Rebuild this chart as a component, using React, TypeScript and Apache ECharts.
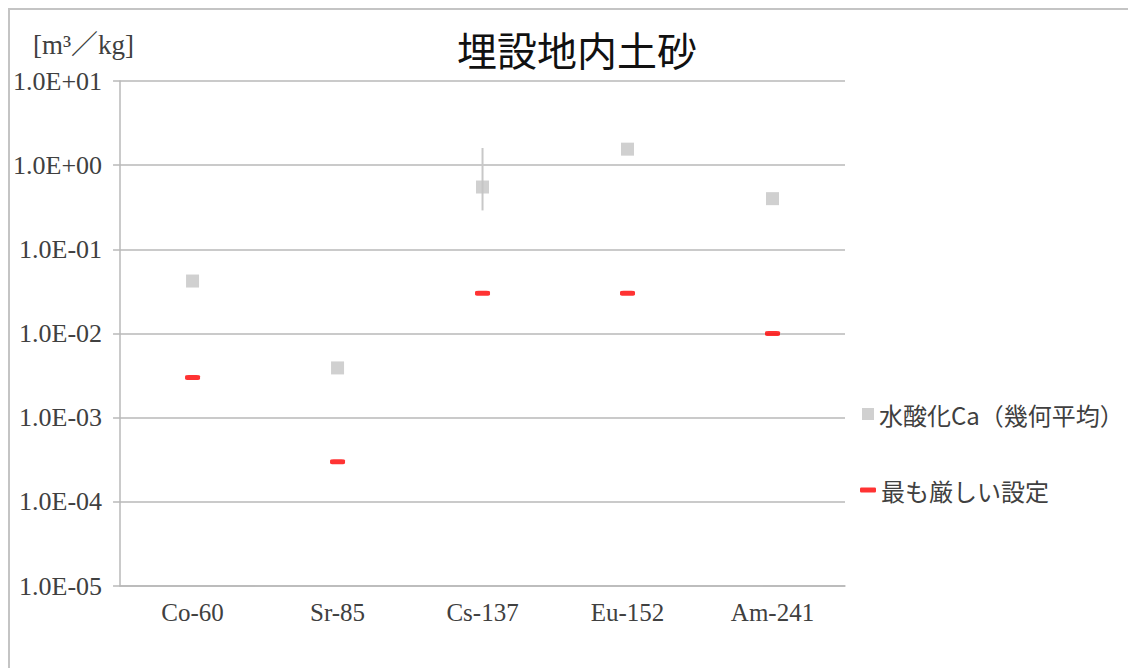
import React, { useEffect, useRef } from "react";
import * as echarts from "echarts";

const categories = ["Co-60", "Sr-85", "Cs-137", "Eu-152", "Am-241"];
const caGeoMean = [0.042, 0.0039, 0.55, 1.55, 0.4];
const strictest = [0.003, 0.0003, 0.03, 0.03, 0.01];
const errLow: (number | null)[] = [null, null, 0.29, null, null];
const errHigh: (number | null)[] = [null, null, 1.6, null, null];
const yTickLabels: Record<string, string> = {
  "-5": "1.0E-05",
  "-4": "1.0E-04",
  "-3": "1.0E-03",
  "-2": "1.0E-02",
  "-1": "1.0E-01",
  "0": "1.0E+00",
  "1": "1.0E+01",
};
const seriesNames = ["水酸化Ca（幾何平均）", "最も厳しい設定"];
const title = "埋設地内土砂";
const unitLabel = "[m³／kg]";

const GRID = "#b8b8b8";
const SERIF = "'Liberation Serif', 'Noto Sans CJK JP', serif";
const SANS = "'Noto Sans CJK JP', 'Noto Sans', sans-serif";

export default function App() {
  const ref = useRef<HTMLDivElement>(null);
  useEffect(() => {
    document.body.style.overflow = "hidden";
    if (!ref.current) return;
    const chart = echarts.init(ref.current, null, { renderer: "svg" });
    const errData: number[][] = [];
    errLow.forEach((lo, i) => {
      const hi = errHigh[i];
      if (lo != null && hi != null) errData.push([i, lo, hi]);
    });
    chart.setOption({
      animation: false,
      backgroundColor: "#ffffff",
      title: {
        text: title,
        left: 562,
        top: 14,
        textAlign: "center",
        textStyle: { fontFamily: SANS, fontSize: 40, fontWeight: "normal", color: "#111111" },
      },
      graphic: [
        {
          type: "text",
          left: 23,
          top: 21,
          style: { text: unitLabel, font: `27px ${SERIF}`, fill: "#404040" },
        },
      ],
      legend: [
        {
          data: [seriesNames[0]],
          left: 847,
          top: 387,
          icon: "rect",
          itemWidth: 12,
          itemHeight: 12,
          itemGap: 0,
          textStyle: { fontFamily: SANS, fontSize: 24, color: "#404040" },
        },
        {
          data: [seriesNames[1]],
          left: 845,
          top: 463,
          icon: "roundRect",
          itemWidth: 16,
          itemHeight: 5,
          textStyle: { fontFamily: SANS, fontSize: 24, color: "#404040" },
        },
      ],
      grid: { left: 109, top: 71, right: 291, bottom: 82, containLabel: false },
      xAxis: {
        type: "category",
        data: categories,
        boundaryGap: true,
        axisLine: { show: true, lineStyle: { color: GRID, width: 1.5 } },
        axisTick: { show: false },
        axisLabel: { fontFamily: SERIF, fontSize: 25, color: "#404040", margin: 14 },
        splitLine: { show: false },
      },
      yAxis: {
        type: "log",
        logBase: 10,
        min: 0.00001,
        max: 10,
        interval: 1,
        axisLine: { show: true, lineStyle: { color: GRID, width: 1.5 } },
        axisTick: { show: true, length: 7, lineStyle: { color: GRID, width: 1.5 } },
        splitLine: { show: true, lineStyle: { color: GRID, width: 1.5 } },
        axisLabel: {
          fontFamily: SERIF,
          fontSize: 26,
          color: "#404040",
          margin: 18,
          formatter: (v: number) => yTickLabels[String(Math.round(Math.log10(v)))] ?? "",
        },
      },
      series: [
        {
          type: "custom",
          name: "err",
          z: 2,
          data: errData,
          encode: { x: 0, y: [1, 2] },
          renderItem: (params: any, api: any) => {
            const p1 = api.coord([api.value(0), api.value(1)]);
            const p2 = api.coord([api.value(0), api.value(2)]);
            return {
              type: "line",
              shape: { x1: p1[0], y1: p1[1], x2: p2[0], y2: p2[1] },
              style: { stroke: "#c8c8c8", lineWidth: 2 },
            };
          },
        },
        {
          type: "scatter",
          name: seriesNames[0],
          z: 3,
          symbol: "rect",
          symbolSize: 13,
          itemStyle: { color: "#c4c4c4" },
          data: caGeoMean,
        },
        {
          type: "scatter",
          name: seriesNames[1],
          z: 3,
          symbol: "roundRect",
          symbolSize: [15, 5],
          itemStyle: { color: "#ff0000" },
          data: strictest,
        },
      ],
    });
    return () => chart.dispose();
  }, []);
  return (
    <div
      style={{
        width: 1128,
        height: 660,
        borderTop: "2px solid #c4c4c4",
        borderLeft: "2px solid #c4c4c4",
        boxSizing: "border-box",
      }}
    >
      <div ref={ref} style={{ width: 1126, height: 658 }} />
    </div>
  );
}
